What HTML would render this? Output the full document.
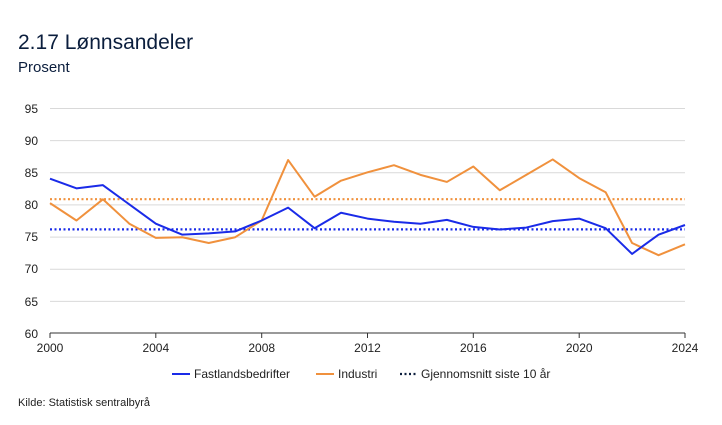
<!DOCTYPE html>
<html><head><meta charset="utf-8"><style>
body{margin:0;background:#fff;width:722px;height:420px;overflow:hidden;font-family:"Liberation Sans",sans-serif;color:#0b1e3d}
</style></head><body>
<svg width="722" height="420" xmlns="http://www.w3.org/2000/svg" font-family="Liberation Sans, sans-serif">
<text x="18" y="49" font-size="21" fill="#0b1e3d">2.17 Lønnsandeler</text>
<text x="18" y="72" font-size="15" fill="#0b1e3d">Prosent</text>
<g stroke="#d9d9d9" stroke-width="1">
<line x1="50" x2="685" y1="108.5" y2="108.5"/><line x1="50" x2="685" y1="140.6" y2="140.6"/>
<line x1="50" x2="685" y1="172.8" y2="172.8"/><line x1="50" x2="685" y1="204.9" y2="204.9"/>
<line x1="50" x2="685" y1="237.1" y2="237.1"/><line x1="50" x2="685" y1="269.2" y2="269.2"/>
<line x1="50" x2="685" y1="301.4" y2="301.4"/>
</g>
<line x1="50" x2="685" y1="333" y2="333" stroke="#333" stroke-width="1"/>
<g stroke="#333"><line x1="50" x2="50" y1="333" y2="338"/><line x1="155.8" x2="155.8" y1="333" y2="338"/><line x1="261.7" x2="261.7" y1="333" y2="338"/><line x1="367.5" x2="367.5" y1="333" y2="338"/><line x1="473.3" x2="473.3" y1="333" y2="338"/><line x1="579.2" x2="579.2" y1="333" y2="338"/><line x1="685" x2="685" y1="333" y2="338"/></g>
<g font-size="12" fill="#222" text-anchor="end">
<text x="38" y="113">95</text><text x="38" y="145">90</text><text x="38" y="177">85</text><text x="38" y="209">80</text><text x="38" y="241">75</text><text x="38" y="273">70</text><text x="38" y="306">65</text><text x="38" y="338">60</text>
</g>
<g font-size="12" fill="#222" text-anchor="middle">
<text x="50" y="352">2000</text><text x="155.8" y="352">2004</text><text x="261.7" y="352">2008</text><text x="367.5" y="352">2012</text><text x="473.3" y="352">2016</text><text x="579.2" y="352">2020</text><text x="685" y="352">2024</text>
</g>
<line x1="50" x2="685" y1="199.2" y2="199.2" stroke="#f0913d" stroke-width="2.2" stroke-dasharray="2,2.5"/>
<line x1="50" x2="685" y1="229.4" y2="229.4" stroke="#1a2be8" stroke-width="2.2" stroke-dasharray="2,2.5"/>
<g transform="translate(50,333) scale(26.458,-6.4286)" fill="none" stroke-linejoin="round">
<polyline vector-effect="non-scaling-stroke" stroke="#f0913d" stroke-width="2" points="0,20.2 1,17.5 2,20.8 3,17 4,14.8 5,14.9 6,14 7,14.9 8,17.5 9,26.9 10,21.2 11,23.7 12,25 13,26.1 14,24.6 15,23.5 16,25.9 17,22.2 18,24.6 19,27 20,24.1 21,21.9 22,14 23,12.1 24,13.8"/>
<polyline vector-effect="non-scaling-stroke" stroke="#1a2be8" stroke-width="2" points="0,24 1,22.5 2,23 3,20 4,17 5,15.3 6,15.5 7,15.8 8,17.5 9,19.5 10,16.3 11,18.7 12,17.8 13,17.3 14,17 15,17.6 16,16.5 17,16.1 18,16.4 19,17.4 20,17.8 21,16.3 22,12.3 23,15.3 24,16.8"/>
</g>
<g font-size="12" fill="#222">
<line x1="172" x2="190" y1="374" y2="374" stroke="#1a2be8" stroke-width="2"/><text x="194" y="378">Fastlandsbedrifter</text>
<line x1="316" x2="334" y1="374" y2="374" stroke="#f0913d" stroke-width="2"/><text x="338" y="378">Industri</text>
<line x1="400" x2="418" y1="374" y2="374" stroke="#0b1e3d" stroke-width="2.2" stroke-dasharray="2,2.5"/><text x="421" y="378">Gjennomsnitt siste 10 år</text>
<text x="18" y="406" font-size="11">Kilde: Statistisk sentralbyrå</text>
</g>
</svg>
</body></html>
